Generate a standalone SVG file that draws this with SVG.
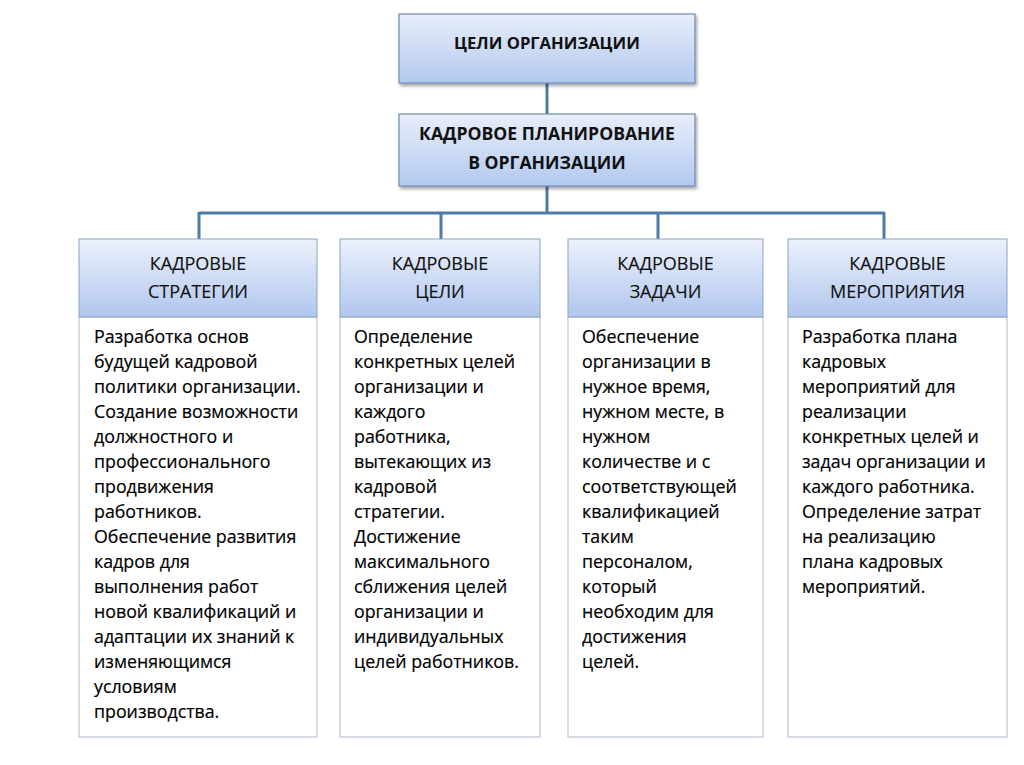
<svg xmlns="http://www.w3.org/2000/svg" width="1024" height="765" viewBox="0 0 1024 765">
<defs>
<linearGradient id="gTop" x1="0" y1="0" x2="0" y2="1">
<stop offset="0" stop-color="#e8eefa"/>
<stop offset="1" stop-color="#b3c9ef"/>
</linearGradient>
<linearGradient id="gHead" x1="0" y1="0" x2="0" y2="1">
<stop offset="0" stop-color="#ecf1fb"/>
<stop offset="1" stop-color="#b0c6ee"/>
</linearGradient>
<filter id="sh" x="-5%" y="-10%" width="112%" height="130%">
<feDropShadow dx="1.5" dy="2.5" stdDeviation="1.5" flood-color="#000" flood-opacity="0.35"/>
</filter>
</defs>
<style>
.top{fill:url(#gTop);stroke:#6f8bb5;stroke-width:1.2}
.head{fill:url(#gHead);stroke:#8ba2c4;stroke-width:1}
.body{fill:#ffffff;stroke:#b9c5d6;stroke-width:1.2}
.conn{stroke:#4d7ba6;stroke-width:3;fill:none}
.tt{font-family:"Open Sans","Noto Sans",sans-serif;font-weight:bold;font-size:16.6px;fill:#111;text-anchor:middle}
.tt2{font-size:17.6px}
.ht{font-family:"Open Sans","Noto Sans",sans-serif;font-size:18px;fill:#111;text-anchor:middle;stroke:#111;stroke-width:0.15}
.bt{font-family:"Open Sans","Noto Sans",sans-serif;font-size:17.8px;fill:#000;stroke:#000;stroke-width:0.2}
</style>
<rect width="1024" height="765" fill="#ffffff"/>
<g id="connectors">
<path class="conn" d="M547 83V114M547 186V213M199 213H884M199 212V239M441 212V239M658 212V239M884 212V239"/>
</g>
<g id="goals">
<rect class="top" x="399" y="14" width="296" height="69" filter="url(#sh)"/>
<text class="tt" x="547" y="49">ЦЕЛИ ОРГАНИЗАЦИИ</text>
</g>
<g id="planning">
<rect class="top" x="399" y="114" width="296" height="72" filter="url(#sh)"/>
<text class="tt tt2" x="547" y="140">КАДРОВОЕ ПЛАНИРОВАНИЕ</text>
<text class="tt tt2" x="547" y="169">В ОРГАНИЗАЦИИ</text>
</g>
<g id="strategies">
<rect class="body" x="79" y="317" width="238" height="420"/>
<rect class="head" x="79" y="239" width="238" height="78"/>
<text class="ht" x="198" y="269.5">КАДРОВЫЕ</text>
<text class="ht" x="198" y="297.5">СТРАТЕГИИ</text>
<text class="bt" x="94" y="343">
<tspan x="94" dy="0">Разработка основ</tspan>
<tspan x="94" dy="25">будущей кадровой</tspan>
<tspan x="94" dy="25">политики организации.</tspan>
<tspan x="94" dy="25">Создание возможности</tspan>
<tspan x="94" dy="25">должностного и</tspan>
<tspan x="94" dy="25">профессионального</tspan>
<tspan x="94" dy="25">продвижения</tspan>
<tspan x="94" dy="25">работников.</tspan>
<tspan x="94" dy="25">Обеспечение развития</tspan>
<tspan x="94" dy="25">кадров для</tspan>
<tspan x="94" dy="25">выполнения работ</tspan>
<tspan x="94" dy="25">новой квалификаций и</tspan>
<tspan x="94" dy="25">адаптации их знаний к</tspan>
<tspan x="94" dy="25">изменяющимся</tspan>
<tspan x="94" dy="25">условиям</tspan>
<tspan x="94" dy="25">производства.</tspan>
</text>
</g>
<g id="goals-hr">
<rect class="body" x="340" y="317" width="200" height="420"/>
<rect class="head" x="340" y="239" width="200" height="78"/>
<text class="ht" x="440" y="269.5">КАДРОВЫЕ</text>
<text class="ht" x="440" y="297.5">ЦЕЛИ</text>
<text class="bt" x="354" y="343">
<tspan x="354" dy="0">Определение</tspan>
<tspan x="354" dy="25">конкретных целей</tspan>
<tspan x="354" dy="25">организации и</tspan>
<tspan x="354" dy="25">каждого</tspan>
<tspan x="354" dy="25">работника,</tspan>
<tspan x="354" dy="25">вытекающих из</tspan>
<tspan x="354" dy="25">кадровой</tspan>
<tspan x="354" dy="25">стратегии.</tspan>
<tspan x="354" dy="25">Достижение</tspan>
<tspan x="354" dy="25">максимального</tspan>
<tspan x="354" dy="25">сближения целей</tspan>
<tspan x="354" dy="25">организации и</tspan>
<tspan x="354" dy="25">индивидуальных</tspan>
<tspan x="354" dy="25">целей работников.</tspan>
</text>
</g>
<g id="tasks">
<rect class="body" x="568" y="317" width="195" height="420"/>
<rect class="head" x="568" y="239" width="195" height="78"/>
<text class="ht" x="665.5" y="269.5">КАДРОВЫЕ</text>
<text class="ht" x="665.5" y="297.5">ЗАДАЧИ</text>
<text class="bt" x="582" y="343">
<tspan x="582" dy="0">Обеспечение</tspan>
<tspan x="582" dy="25">организации в</tspan>
<tspan x="582" dy="25">нужное время,</tspan>
<tspan x="582" dy="25">нужном месте, в</tspan>
<tspan x="582" dy="25">нужном</tspan>
<tspan x="582" dy="25">количестве и с</tspan>
<tspan x="582" dy="25">соответствующей</tspan>
<tspan x="582" dy="25">квалификацией</tspan>
<tspan x="582" dy="25">таким</tspan>
<tspan x="582" dy="25">персоналом,</tspan>
<tspan x="582" dy="25">который</tspan>
<tspan x="582" dy="25">необходим для</tspan>
<tspan x="582" dy="25">достижения</tspan>
<tspan x="582" dy="25">целей.</tspan>
</text>
</g>
<g id="activities">
<rect class="body" x="788" y="317" width="219" height="420"/>
<rect class="head" x="788" y="239" width="219" height="78"/>
<text class="ht" x="897.5" y="269.5">КАДРОВЫЕ</text>
<text class="ht" x="897.5" y="297.5">МЕРОПРИЯТИЯ</text>
<text class="bt" x="802" y="343">
<tspan x="802" dy="0">Разработка плана</tspan>
<tspan x="802" dy="25">кадровых</tspan>
<tspan x="802" dy="25">мероприятий для</tspan>
<tspan x="802" dy="25">реализации</tspan>
<tspan x="802" dy="25">конкретных целей и</tspan>
<tspan x="802" dy="25">задач организации и</tspan>
<tspan x="802" dy="25">каждого работника.</tspan>
<tspan x="802" dy="25">Определение затрат</tspan>
<tspan x="802" dy="25">на реализацию</tspan>
<tspan x="802" dy="25">плана кадровых</tspan>
<tspan x="802" dy="25">мероприятий.</tspan>
</text>
</g>
</svg>
